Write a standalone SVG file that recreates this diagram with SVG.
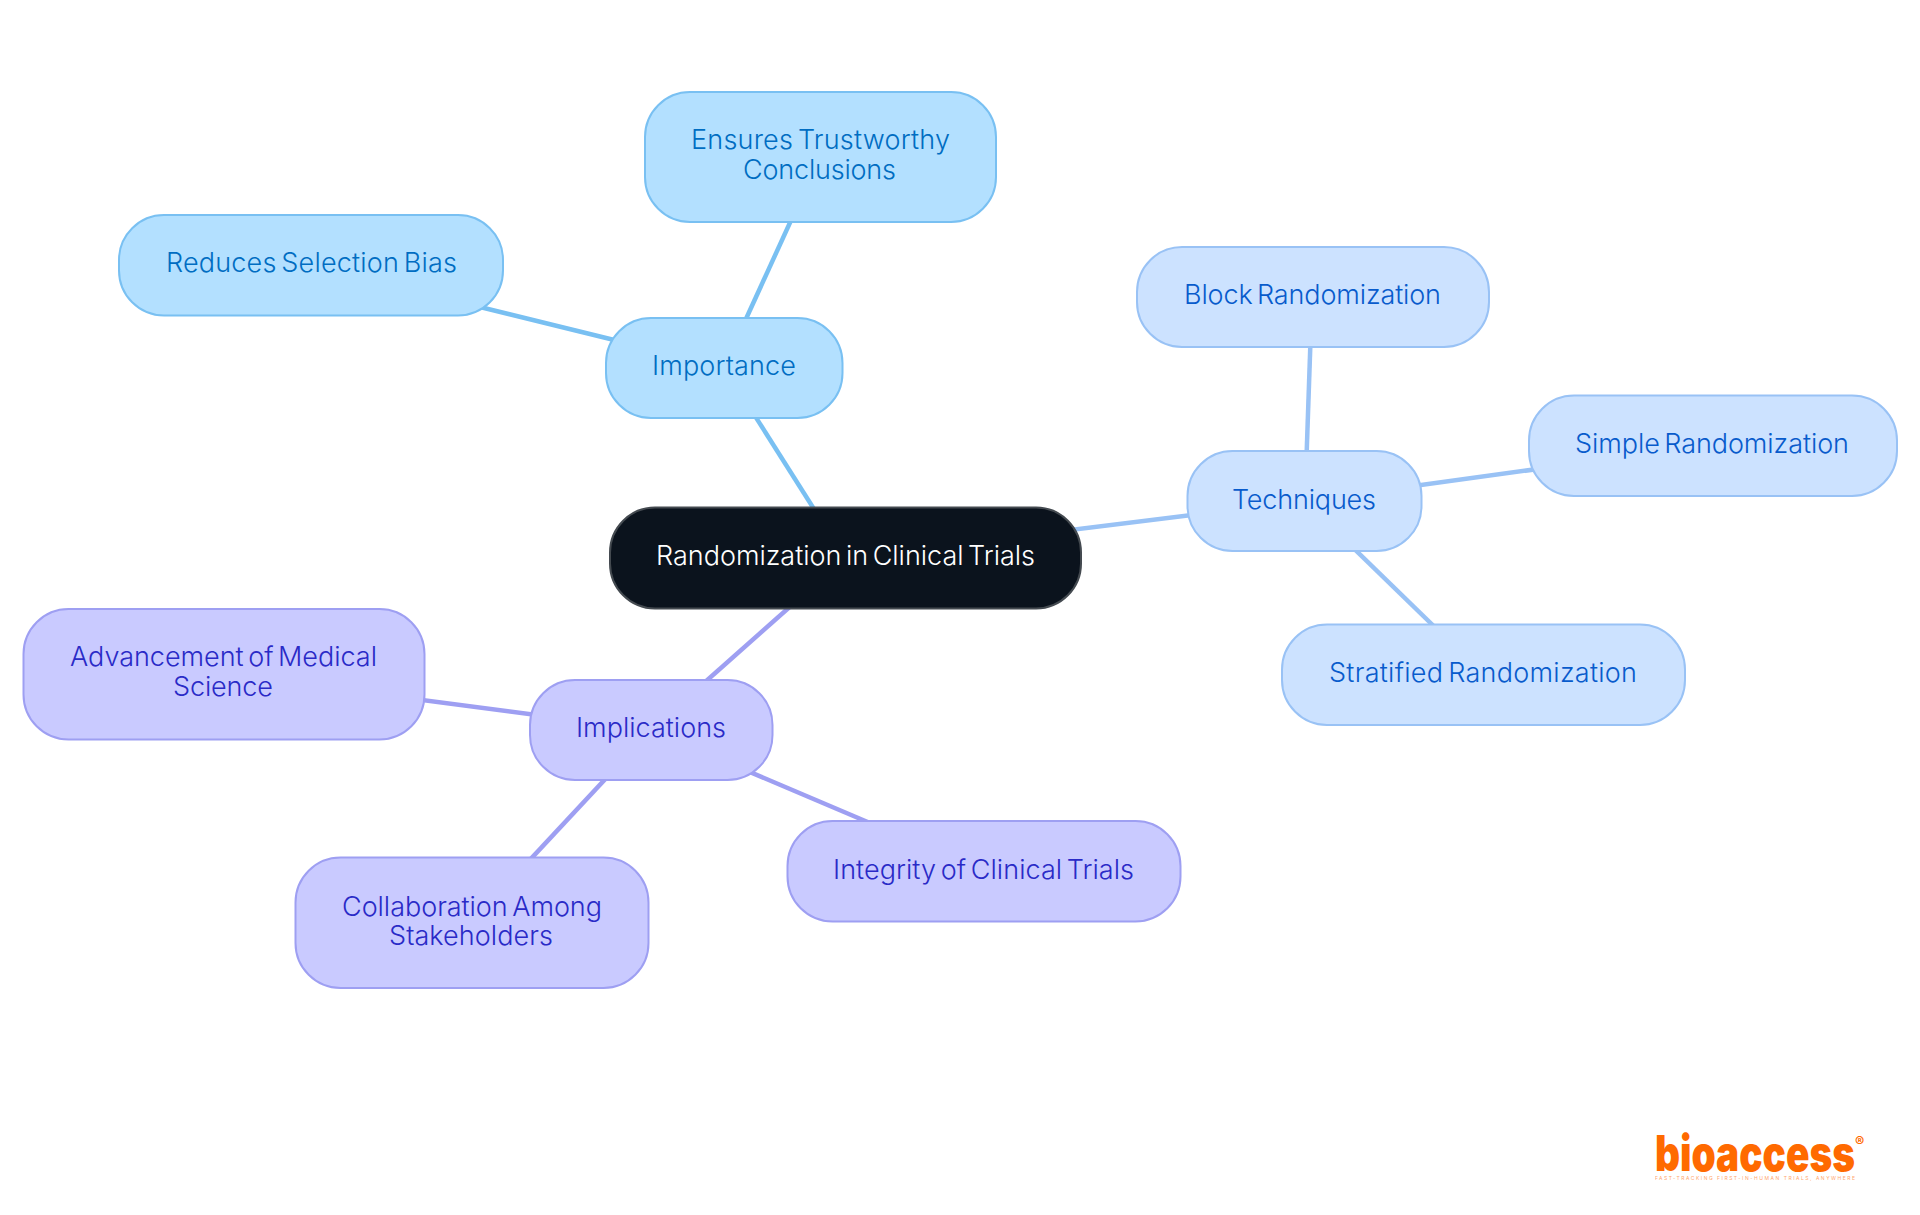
<svg xmlns="http://www.w3.org/2000/svg" width="1920" height="1215" viewBox="0 0 1920 1215">
<style>
text{font-family:"Inter","Noto Sans",sans-serif;font-size:27px;font-weight:350;word-spacing:-3px}
rect{stroke-width:2}
.c line{stroke-width:4.500;fill:none}
.a rect{fill:#b3e0ff;stroke:#79c0f2}.a text{fill:#006dc2}
.b rect{fill:#cce2ff;stroke:#99c2f5}.b text{fill:#085bcc}
.d rect{fill:#c9caff;stroke:#9e9ff2}.d text{fill:#2a2ac7}
.logo{fill:#ff6a00}
</style>
<rect width="1920" height="1215" fill="#fff" stroke="none"/>
<g id="connectors" class="c">
<line x1="845" y1="558" x2="724" y2="367" stroke="#79c0f2"/>
<line x1="724" y1="367" x2="311" y2="265.500" stroke="#79c0f2"/>
<line x1="724" y1="367" x2="820" y2="157" stroke="#79c0f2"/>
<line x1="845" y1="558" x2="1305" y2="501" stroke="#99c2f5"/>
<line x1="1305" y1="501" x2="1312" y2="297" stroke="#99c2f5"/>
<line x1="1305" y1="501" x2="1712" y2="445" stroke="#99c2f5"/>
<line x1="1305" y1="501" x2="1483" y2="674" stroke="#99c2f5"/>
<line x1="845" y1="558" x2="651" y2="730" stroke="#9e9ff2"/>
<line x1="651" y1="730" x2="224" y2="674" stroke="#9e9ff2"/>
<line x1="651" y1="730" x2="472" y2="922" stroke="#9e9ff2"/>
<line x1="651" y1="730" x2="983" y2="871" stroke="#9e9ff2"/>
</g>
<g id="root"><rect x="610" y="507.500" width="471" height="101" rx="45" fill="#0b131d" stroke="#444a50"/><text x="656" y="565" textLength="379" fill="#fff">Randomization in Clinical Trials</text></g>
<g id="importance" class="a"><rect x="606" y="318" width="236.500" height="100" rx="45"/><text x="652" y="375" textLength="144">Importance</text></g>
<g id="ensures" class="a"><rect x="645" y="92" width="351" height="130" rx="45"/><text x="691" y="149" textLength="259">Ensures Trustworthy</text><text x="743" y="179" textLength="153">Conclusions</text></g>
<g id="reduces" class="a"><rect x="119" y="215" width="384" height="100.500" rx="45"/><text x="166" y="272" textLength="291">Reduces Selection Bias</text></g>
<g id="techniques" class="b"><rect x="1187.500" y="451" width="234" height="100" rx="45"/><text x="1232" y="509" textLength="144">Techniques</text></g>
<g id="block" class="b"><rect x="1137" y="247" width="352" height="100" rx="45"/><text x="1184" y="304" textLength="257">Block Randomization</text></g>
<g id="simple" class="b"><rect x="1529" y="395.500" width="368" height="100.500" rx="45"/><text x="1575" y="453" textLength="274">Simple Randomization</text></g>
<g id="stratified" class="b"><rect x="1282" y="624.500" width="403" height="100.500" rx="45"/><text x="1329" y="682" textLength="308">Stratified Randomization</text></g>
<g id="implications" class="d"><rect x="530" y="680" width="242.500" height="100" rx="45"/><text x="576" y="737" textLength="150">Implications</text></g>
<g id="advancement" class="d"><rect x="23.500" y="609" width="401" height="130.500" rx="45"/><text x="70" y="666" textLength="307">Advancement of Medical</text><text x="173" y="696" textLength="100">Science</text></g>
<g id="collaboration" class="d"><rect x="295.500" y="857.500" width="353" height="130.500" rx="45"/><text x="342" y="916" textLength="260">Collaboration Among</text><text x="389" y="945" textLength="164">Stakeholders</text></g>
<g id="integrity" class="d"><rect x="787.500" y="821" width="393" height="100.500" rx="45"/><text x="833" y="879" textLength="301">Integrity of Clinical Trials</text></g>
<g id="logo"><text class="logo" x="1655" y="1170.500" textLength="200" lengthAdjust="spacingAndGlyphs" style="font-size:49px;font-weight:900;word-spacing:0">bioaccess</text><text class="logo" x="1855" y="1147" style="font-size:14px;font-weight:700;word-spacing:0">®</text><text class="logo" x="1655" y="1179.500" textLength="200" style="font-size:5px;font-weight:400;opacity:.6;word-spacing:0">FAST-TRACKING FIRST-IN-HUMAN TRIALS, ANYWHERE</text></g>
</svg>
